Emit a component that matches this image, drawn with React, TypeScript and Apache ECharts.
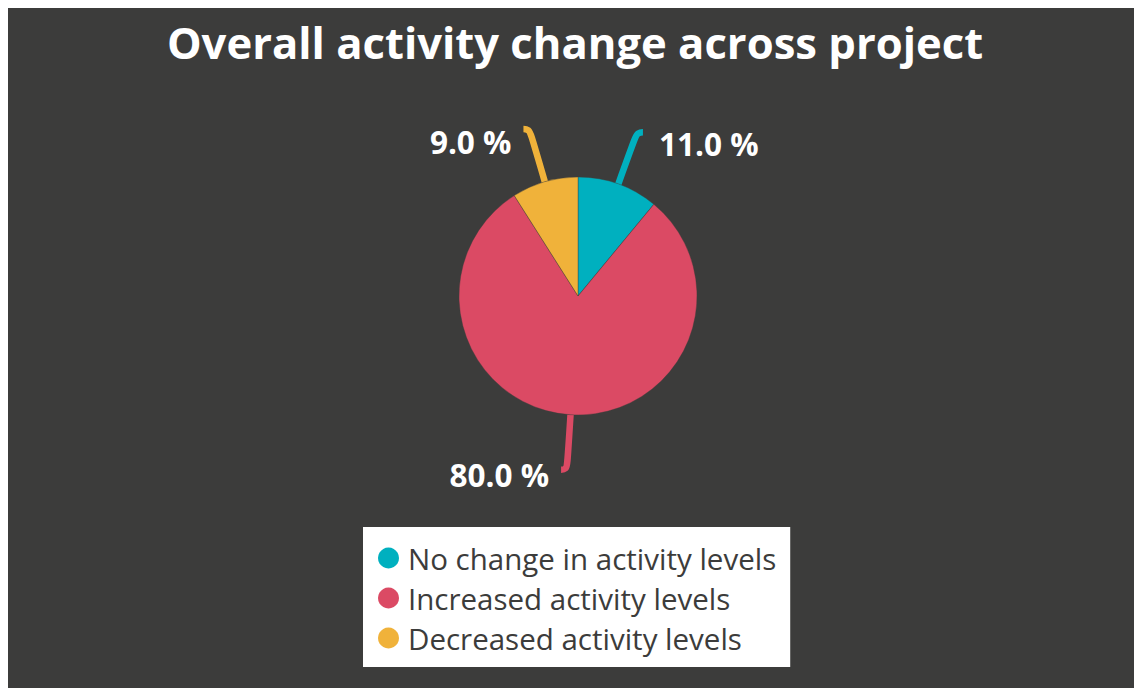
import React, { useEffect, useRef } from "react";
import * as echarts from "echarts";

const titleText = "Overall activity change across project";
const categories = [
  "No change in activity levels",
  "Increased activity levels",
  "Decreased activity levels",
];
const values = [11, 80, 9];
const colors = ["#00b0bf", "#db4a64", "#f0b23a"];
const labelDrops = [22, 10, 26];
const labelGaps = [16, 12, 12];

export default function App() {
  const ref = useRef<HTMLDivElement>(null);
  useEffect(() => {
    document.body.style.overflow = "hidden";
    const chart = echarts.init(ref.current!, null, { renderer: "svg" });
    chart.setOption({
      animation: false,
      backgroundColor: "#3c3c3b",
      title: {
        text: titleText,
        left: "center",
        top: 7,
        textStyle: {
          color: "#ffffff",
          fontFamily: "Open Sans",
          fontWeight: "bold",
          fontSize: 43.6,
        },
      },
      legend: {
        orient: "vertical",
        left: 355,
        top: 519,
        backgroundColor: "#ffffff",
        padding: [16, 14, 14, 15],
        icon: "circle",
        itemWidth: 21,
        itemHeight: 21,
        itemGap: 10,
        borderRadius: 0,
        data: categories,
        itemStyle: { borderWidth: 0 },
        textStyle: {
          color: "#3c3c3b",
          fontFamily: "Open Sans",
          fontSize: 29.5,
          lineHeight: 30,
          padding: [0, 0, 0, 4],
        },
      },
      series: [
        {
          type: "pie",
          center: [570, 288],
          radius: 119,
          startAngle: 90,
          clockwise: true,
          avoidLabelOverlap: false,
          data: categories.map((c, i) => ({
            name: c,
            value: values[i],
            itemStyle: { color: colors[i] },
            label: {
              distanceToLabelLine: labelGaps[i],
              rich: {
                s: { height: labelDrops[i], lineHeight: labelDrops[i], fontSize: 10 },
                v: {
                  color: "#ffffff",
                  fontFamily: "Open Sans",
                  fontWeight: "bold",
                  fontSize: 31.5,
                  lineHeight: 38,
                },
              },
            },
          })),
          itemStyle: { borderColor: "#3c3c3b", borderWidth: 0.4 },
          label: {
            show: true,
            color: "#ffffff",
            fontFamily: "Open Sans",
            fontWeight: "bold",
            fontSize: 31.5,
            formatter: (p: any) => "{s| }\n{v|" + p.value.toFixed(1) + " %}",
          },
          labelLine: {
            show: true,
            length: 55,
            length2: 6,
            smooth: 0.5,
            lineStyle: { width: 6.5 },
          },
        },
      ],
    });
    return () => chart.dispose();
  }, []);
  return <div ref={ref} style={{ width: 1134, height: 680 }} />;
}
